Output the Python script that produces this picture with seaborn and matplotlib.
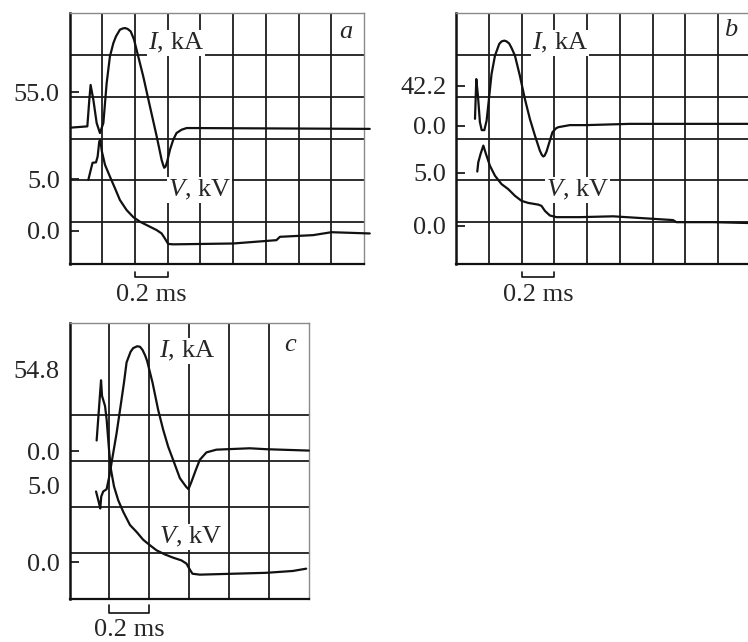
import matplotlib
matplotlib.use('Agg')
import matplotlib.pyplot as plt
import seaborn as sns
import numpy as np
import pandas as pd
from matplotlib.transforms import blended_transform_factory

# ---------------- data (time in ms, amplitude in screen divisions) ----------------
a_I_t = [0.009, 0.109, 0.121, 0.129, 0.146, 0.166, 0.186, 0.207, 0.227, 0.247, 0.268, 0.284,
         0.308, 0.325, 0.339, 0.355, 0.374, 0.394, 0.410, 0.451, 0.492, 0.533, 0.563, 0.573,
         0.579, 0.587, 0.597, 0.614, 0.634, 0.654, 0.685, 0.716, 0.736, 1.835]
a_I = [3.26, 3.29, 3.92, 4.28, 3.92, 3.37, 3.13, 3.37, 4.32, 4.96, 5.28, 5.44,
       5.60, 5.63, 5.64, 5.62, 5.56, 5.37, 5.12, 4.48, 3.76, 3.05, 2.49, 2.36,
       2.30, 2.33, 2.45, 2.73, 2.97, 3.13, 3.21, 3.25, 3.25, 3.23]
a_V_t = [0.115, 0.135, 0.141, 0.162, 0.172, 0.182, 0.188, 0.198, 0.217, 0.247, 0.278, 0.308,
         0.349, 0.390, 0.431, 0.482, 0.533, 0.563, 0.583, 0.603, 0.634, 1.000, 1.265, 1.286,
         1.489, 1.601, 1.835]
a_V = [2.01, 2.33, 2.42, 2.43, 2.57, 2.93, 2.97, 2.69, 2.37, 2.09, 1.81, 1.53,
       1.29, 1.12, 1.01, 0.91, 0.81, 0.73, 0.61, 0.48, 0.47, 0.49, 0.57, 0.65,
       0.69, 0.76, 0.73]
a_ytick_pos = [4.1, 2.03, 0.79]
a_ytick_lab = ["55.0", "5.0", "0.0"]

b_I_t = [0.116, 0.124, 0.134, 0.146, 0.157, 0.173, 0.187, 0.201, 0.217, 0.238, 0.264, 0.278,
         0.295, 0.309, 0.325, 0.341, 0.360, 0.390, 0.421, 0.451, 0.482, 0.512, 0.524, 0.533,
         0.541, 0.553, 0.567, 0.589, 0.610, 0.624, 0.695, 0.797, 1.061, 1.782]
b_I = [3.47, 4.42, 4.02, 3.39, 3.20, 3.20, 3.43, 3.94, 4.54, 4.98, 5.26, 5.32,
       5.34, 5.32, 5.27, 5.15, 4.98, 4.50, 3.94, 3.47, 3.07, 2.71, 2.61, 2.57,
       2.59, 2.69, 2.87, 3.15, 3.24, 3.27, 3.32, 3.32, 3.35, 3.35]
b_V_t = [0.130, 0.136, 0.150, 0.167, 0.183, 0.207, 0.238, 0.278, 0.319, 0.360, 0.400, 0.441,
         0.502, 0.522, 0.543, 0.573, 0.614, 0.756, 0.959, 1.163, 1.325, 1.346, 1.569, 1.782]
b_V = [2.21, 2.43, 2.63, 2.83, 2.63, 2.35, 2.11, 1.91, 1.79, 1.63, 1.51, 1.46,
       1.42, 1.39, 1.27, 1.16, 1.12, 1.12, 1.14, 1.09, 1.05, 1.00, 1.00, 0.98]
b_ytick_pos = [4.26, 3.30, 2.18, 0.91]
b_ytick_lab = ["42.2", "0.0", "5.0", "0.0"]

c_I_t = [0.133, 0.146, 0.154, 0.159, 0.169, 0.186, 0.199, 0.216, 0.236, 0.256, 0.273, 0.286,
         0.306, 0.319, 0.339, 0.353, 0.366, 0.379, 0.389, 0.416, 0.444, 0.469, 0.494, 0.519,
         0.553, 0.583, 0.596, 0.611, 0.633, 0.653, 0.686, 0.736, 0.903, 0.986, 1.199]
c_I = [2.34, 2.12, 1.97, 2.23, 2.34, 2.39, 2.66, 3.10, 3.61, 4.20, 4.71, 5.15,
       5.38, 5.46, 5.50, 5.49, 5.42, 5.30, 5.18, 4.71, 4.12, 3.69, 3.32, 3.03,
       2.63, 2.45, 2.39, 2.55, 2.81, 3.03, 3.19, 3.25, 3.28, 3.26, 3.23]
c_V_t = [0.136, 0.158, 0.163, 0.178, 0.186, 0.198, 0.208, 0.223, 0.244, 0.269, 0.303, 0.336,
         0.369, 0.403, 0.436, 0.478, 0.519, 0.561, 0.586, 0.603, 0.616, 0.653, 0.819, 0.986,
         1.119, 1.186]
c_V = [3.45, 4.76, 4.42, 4.20, 3.91, 3.25, 2.81, 2.45, 2.15, 1.90, 1.61, 1.46,
       1.29, 1.17, 1.06, 0.97, 0.90, 0.84, 0.77, 0.64, 0.55, 0.53, 0.55, 0.57,
       0.61, 0.66]
c_ytick_pos = [5.0, 3.22, 2.48, 0.80]
c_ytick_lab = ["54.8", "0.0", "5.0", "0.0"]

# ---------------- style ----------------
sns.set_theme(style='white')
plt.rcParams['font.family'] = ['Liberation Serif', 'DejaVu Serif']
plt.rcParams['mathtext.fontset'] = 'custom'
plt.rcParams['mathtext.rm'] = 'Liberation Serif'
plt.rcParams['mathtext.it'] = 'Liberation Serif:italic'

FS = 19
W, H = 748, 642
fig = plt.figure(figsize=(W / 100, H / 100), dpi=100)


def px_axes(left, top, right, bottom):
    return fig.add_axes([left / W, 1 - bottom / H, (right - left) / W, (bottom - top) / H])


def draw_panel(ax, xmax, It, Iv, Vt, Vv, tpos, tlab, hide_tick, letter, letter_xy,
               I_xy, V_xy, bar_x0, bar_y, bar_top, txt_y):
    df_I = pd.DataFrame({'t': It, 'v': Iv})
    df_V = pd.DataFrame({'t': Vt, 'v': Vv})
    for df in (df_I, df_V):
        sns.lineplot(data=df, x='t', y='v', ax=ax, color='#111111', lw=1.6,
                     sort=False, estimator=None, clip_on=False, zorder=3)
    for ln in ax.lines:
        ln.set_solid_joinstyle('round')
    ax.set_xlim(0, xmax)
    ax.set_ylim(0, 6)
    ax.set_xlabel('')
    ax.set_ylabel('')
    ax.set_xticks(np.arange(0.2, xmax - 0.01, 0.2), minor=True)
    ax.set_yticks([1, 2, 3, 4, 5], minor=True)
    ax.set_xticks([])
    ax.set_yticks(tpos)
    ax.set_yticklabels(tlab, fontsize=FS)
    ax.grid(False, which='major')
    ax.grid(True, which='minor', color='#1c1c1c', lw=1.3)
    ax.tick_params(which='minor', length=0)
    ax.tick_params(axis='y', which='major', direction='in', length=6.5, width=1.3,
                   color='#1c1c1c', pad=7, left=True)
    for i in hide_tick:
        ax.yaxis.get_major_ticks()[i].tick1line.set_visible(False)
    ax.spines['left'].set_color('#111111')
    ax.spines['left'].set_linewidth(1.8)
    ax.spines['bottom'].set_color('#111111')
    ax.spines['bottom'].set_linewidth(1.6)
    for s in ('top', 'right'):
        ax.spines[s].set_color('#8a8a8a')
        ax.spines[s].set_linewidth(1.0)
    bbox = dict(facecolor='white', edgecolor='none', pad=0.5)
    ax.text(I_xy[0], I_xy[1], r'$I$, kA', fontsize=FS, ha='left', va='center',
            bbox=bbox, zorder=4)
    ax.text(V_xy[0], V_xy[1], r'$V$, kV', fontsize=FS, ha='left', va='center',
            bbox=bbox, zorder=4)
    ax.text(letter_xy[0], letter_xy[1], letter, fontsize=FS, ha='center', va='center',
            style='italic', zorder=4)
    tr = blended_transform_factory(ax.transData, ax.transAxes)
    ax.plot([bar_x0, bar_x0, bar_x0 + 0.2, bar_x0 + 0.2], [bar_top, bar_y, bar_y, bar_top],
            color='#111111', lw=1.2, transform=tr, clip_on=False)
    ax.text(bar_x0 + 0.1, txt_y, '0.2 ms', fontsize=FS, ha='center', va='center',
            transform=tr)


ax_a = px_axes(69.5, 13, 364, 264)
draw_panel(ax_a, 1.8, a_I_t, a_I, a_V_t, a_V, a_ytick_pos, a_ytick_lab, [], 'a',
           (1.689, 5.55), (0.479, 5.29), (0.602, 1.77), 0.4, -0.052, -0.030, -0.124)

ax_b = px_axes(456, 13, 456 + 294.75, 264)
draw_panel(ax_b, 1.8, b_I_t, b_I, b_V_t, b_V, b_ytick_pos, b_ytick_lab, [], 'b',
           (1.679, 5.6), (0.464, 5.29), (0.55, 1.77), 0.4, -0.052, -0.030, -0.124)

ax_c = px_axes(69.5, 323.3, 309, 599)
draw_panel(ax_c, 1.2, c_I_t, c_I, c_V_t, c_V, c_ytick_pos, c_ytick_lab, [0, 2], 'c',
           (1.1075, 5.52), (0.4475, 5.39), (0.4475, 1.35), 0.2, -0.051, -0.022, -0.112)

fig.savefig('out.png', dpi=100)
